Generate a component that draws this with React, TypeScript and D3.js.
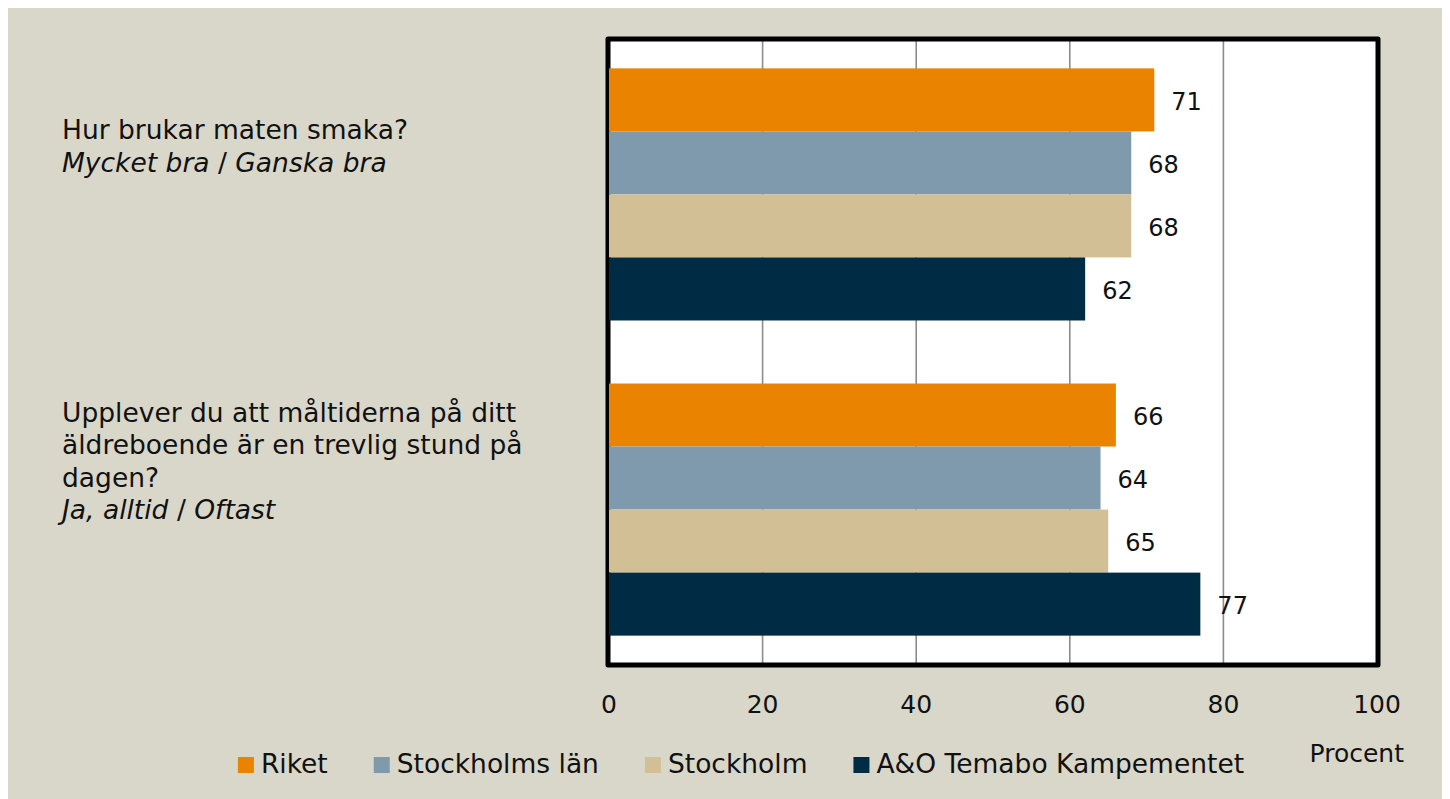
import React, { useRef, useEffect } from 'react';
import * as d3 from 'd3';

// data
const questions = [
    ['Hur brukar maten smaka?'],
    ['Upplever du att måltiderna på ditt', 'äldreboende är en trevlig stund på', 'dagen?'],
];
const answers = [
    ['Mycket bra', 'Ganska bra'],
    ['Ja, alltid', 'Oftast'],
];
const seriesNames = ['Riket', 'Stockholms län', 'Stockholm', 'A&O Temabo Kampementet'];
const riket = [71, 66];
const stockholmsLan = [68, 64];
const stockholm = [68, 65];
const temabo = [62, 77];
const xTicks = [0, 20, 40, 60, 80, 100];
const axisTitle = 'Procent';

const seriesValues = [riket, stockholmsLan, stockholm, temabo];
const colors = ['#E98300', '#7E9AAC', '#D3BF96', '#002B45'];

const FONT = '"DejaVu Sans", sans-serif';

const App = () => {
    const svgRef = useRef<SVGSVGElement>(null);

    const totalWidth = 1442;
    const totalHeight = 791;
    // page offset is 8px (body margin); coordinates below are in svg space
    const plot = { left: 601, right: 1369, top: 32, bottom: 656 };

    useEffect(() => {
        document.body.style.overflow = 'hidden';
        const svg = d3.select(svgRef.current);
        svg.selectAll('*').remove();

        svg.append('rect')
            .attr('width', totalWidth)
            .attr('height', totalHeight)
            .attr('fill', '#D9D7CA');

        const catIds = questions.map((_, i) => `c${i}`);

        const x = d3.scaleLinear().domain([0, 100]).range([plot.left, plot.right]);
        const y = d3.scaleBand()
            .domain(catIds)
            .range([plot.top, plot.bottom])
            .paddingInner(0.2)
            .paddingOuter(0.09);
        const yInner = d3.scaleBand()
            .domain(seriesNames)
            .range([0, y.bandwidth()]);

        // plot area
        svg.append('rect')
            .attr('x', plot.left)
            .attr('y', plot.top)
            .attr('width', plot.right - plot.left)
            .attr('height', plot.bottom - plot.top)
            .attr('fill', 'white');

        svg.append('g')
            .selectAll('line')
            .data(xTicks.slice(1, -1))
            .enter()
            .append('line')
            .attr('x1', d => x(d))
            .attr('x2', d => x(d))
            .attr('y1', plot.top)
            .attr('y2', plot.bottom)
            .attr('stroke', '#8c8c8c')
            .attr('stroke-width', 1.6);

        svg.append('rect')
            .attr('x', plot.left - 1)
            .attr('y', plot.top - 1)
            .attr('width', plot.right - plot.left + 2)
            .attr('height', plot.bottom - plot.top + 2)
            .attr('fill', 'none')
            .attr('stroke', 'black')
            .attr('stroke-width', 5)
            .attr('stroke-linejoin', 'round');

        // bars
        const rows = catIds.flatMap((c, ci) =>
            seriesNames.map((s, si) => ({ cat: c, series: s, value: seriesValues[si][ci], color: colors[si] }))
        );

        svg.append('g')
            .selectAll('rect')
            .data(rows)
            .enter()
            .append('rect')
            .attr('x', x(0))
            .attr('y', d => (y(d.cat) as number) + (yInner(d.series) as number))
            .attr('width', d => x(d.value) - x(0))
            .attr('height', yInner.bandwidth())
            .attr('fill', d => d.color);

        svg.append('g')
            .selectAll('text')
            .data(rows)
            .enter()
            .append('text')
            .attr('x', d => x(d.value) + 17)
            .attr('y', d => (y(d.cat) as number) + (yInner(d.series) as number) + yInner.bandwidth() / 2 + 10)
            .style('font-family', FONT)
            .style('font-size', '24px')
            .style('fill', '#111')
            .text(d => d.value);

        // category labels
        const lineH = 32.5;
        catIds.forEach((c, ci) => {
            const lines = questions[ci].length + 1;
            const center = (y(c) as number) + y.bandwidth() / 2;
            const firstBase = center - 46 - (lines - 1) * lineH / 2 + 7;
            const t = svg.append('text')
                .attr('x', 54)
                .style('font-family', FONT)
                .style('font-size', '26.5px')
                .style('fill', '#111');
            questions[ci].forEach((q, qi) => {
                t.append('tspan')
                    .attr('x', 54)
                    .attr('y', firstBase + qi * lineH)
                    .text(q);
            });
            const ansLine = t.append('tspan')
                .attr('x', 54)
                .attr('y', firstBase + questions[ci].length * lineH);
            answers[ci].forEach((a, ai) => {
                if (ai > 0) ansLine.append('tspan').text(' / ');
                ansLine.append('tspan').style('font-style', 'italic').text(a);
            });
        });

        // x axis labels
        svg.append('g')
            .selectAll('text')
            .data(xTicks)
            .enter()
            .append('text')
            .attr('x', d => x(d))
            .attr('y', 705)
            .attr('text-anchor', 'middle')
            .style('font-family', FONT)
            .style('font-size', '25px')
            .style('fill', '#111')
            .text(d => d);

        svg.append('text')
            .attr('x', 1396)
            .attr('y', 754)
            .attr('text-anchor', 'end')
            .style('font-family', FONT)
            .style('font-size', '25px')
            .style('fill', '#111')
            .text(axisTitle);

        // legend, flowed and centred
        const legend = svg.append('g');
        const items = legend.selectAll('g')
            .data(seriesNames)
            .enter()
            .append('g');
        items.append('rect')
            .attr('y', -16)
            .attr('width', 16)
            .attr('height', 16)
            .attr('fill', (d, i) => colors[i]);
        items.append('text')
            .attr('x', 23)
            .style('font-family', FONT)
            .style('font-size', '26.5px')
            .style('fill', '#111')
            .text(d => d);
        let cx = 0;
        items.each(function () {
            const g = d3.select(this);
            const w = 23 + (g.select('text').node() as SVGTextElement).getComputedTextLength();
            g.attr('transform', `translate(${cx}, 0)`);
            cx += w + 46;
        });
        const legendWidth = cx - 46;
        legend.attr('transform', `translate(${733 - legendWidth / 2}, 765)`);
    }, []);

    return (
        <svg
            ref={svgRef}
            width={totalWidth}
            height={totalHeight}
            style={{ display: 'block' }}
        ></svg>
    );
};

export default App;
